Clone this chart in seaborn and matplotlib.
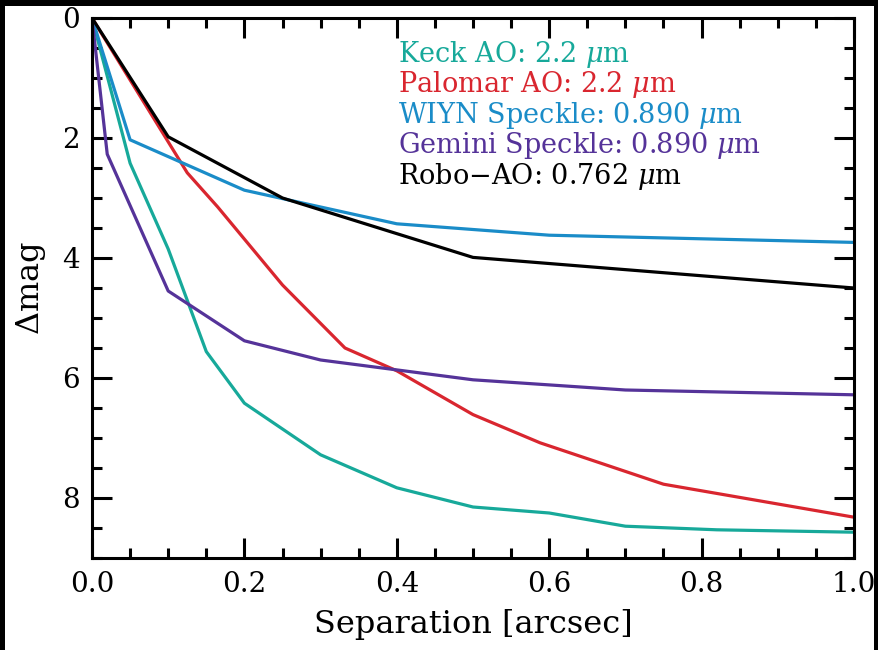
import matplotlib
matplotlib.use("Agg")
import matplotlib.pyplot as plt
from matplotlib.patches import Rectangle
from matplotlib.ticker import MultipleLocator
import seaborn as sns
import pandas as pd

# Contrast curves: separation [arcsec] vs. delta magnitude
keck_sep = [0.0, 0.05, 0.10, 0.15, 0.20, 0.30, 0.40, 0.50, 0.60, 0.70, 0.82, 1.00]
keck_dmag = [0.0, 2.42, 3.85, 5.56, 6.42, 7.28, 7.83, 8.15, 8.25, 8.47, 8.53, 8.57]

palomar_sep = [0.0, 0.125, 0.165, 0.25, 0.332, 0.40, 0.50, 0.588, 0.75, 1.00]
palomar_dmag = [0.0, 2.58, 3.15, 4.45, 5.50, 5.88, 6.61, 7.08, 7.77, 8.32]

wiyn_sep = [0.0, 0.05, 0.20, 0.40, 0.60, 1.00]
wiyn_dmag = [0.0, 2.03, 2.87, 3.43, 3.62, 3.74]

gemini_sep = [0.0, 0.02, 0.10, 0.20, 0.30, 0.50, 0.70, 1.00]
gemini_dmag = [0.0, 2.27, 4.55, 5.38, 5.70, 6.03, 6.20, 6.28]

robo_sep = [0.0, 0.10, 0.25, 0.50, 1.00]
robo_dmag = [0.0, 1.98, 3.00, 3.99, 4.50]

instruments = ["Keck AO", "Palomar AO", "WIYN Speckle", "Gemini Speckle", "Robo\u2212AO"]
wavelengths = ["2.2", "2.2", "0.890", "0.890", "0.762"]
colors = ["#17a99a", "#d9262f", "#1a8cc8", "#553399", "#000000"]

x_label = "Separation [arcsec]"
y_label = r"$\Delta$mag"
x_ticks = [0.0, 0.2, 0.4, 0.6, 0.8, 1.0]
y_ticks = [0, 2, 4, 6, 8]

series = [(keck_sep, keck_dmag), (palomar_sep, palomar_dmag), (wiyn_sep, wiyn_dmag),
          (gemini_sep, gemini_dmag), (robo_sep, robo_dmag)]
frames = []
for name, (xs, ys) in zip(instruments, series):
    frames.append(pd.DataFrame({"sep": xs, "dmag": ys, "instrument": name}))
df = pd.concat(frames, ignore_index=True)

sns.set_style("ticks")
plt.rcParams["font.family"] = ["DejaVu Serif"]
plt.rcParams["mathtext.fontset"] = "dejavuserif"
plt.rcParams["axes.labelcolor"] = "black"

fig = plt.figure(figsize=(8.79, 6.5), dpi=100)
fig.patch.set_facecolor("white")
ax = fig.add_axes([92 / 879, 1 - 558 / 650, (854 - 92) / 879, (558 - 18) / 650])

sns.lineplot(data=df, x="sep", y="dmag", hue="instrument", hue_order=instruments,
             palette=dict(zip(instruments, colors)), linewidth=2.3, sort=False,
             estimator=None, legend=False, ax=ax)

ax.set_xlim(0, 1.0)
ax.set_ylim(9, 0)
ax.set_xticks(x_ticks)
ax.set_xticklabels([f"{t:.1f}" for t in x_ticks])
ax.set_yticks(y_ticks)
ax.set_yticklabels([str(t) for t in y_ticks])
ax.xaxis.set_minor_locator(MultipleLocator(0.05))
ax.yaxis.set_minor_locator(MultipleLocator(0.5))
ax.tick_params(which="both", direction="in", top=True, right=True, width=2.2,
               colors="black", labelsize=20)
ax.tick_params(which="major", length=14.5, pad=9)
ax.tick_params(which="minor", length=7.2)
for s in ax.spines.values():
    s.set_linewidth(2.2)
    s.set_color("black")

ax.set_xlabel(x_label, fontsize=23, labelpad=8)
ax.set_ylabel(y_label, fontsize=23, labelpad=10)

# Coloured label block in the upper right
y0 = 0.933
dy = 0.0565
for i, (name, wl, c) in enumerate(zip(instruments, wavelengths, colors)):
    ax.text(0.4016, y0 - i * dy, f"{name}: {wl} $\\mu$m", color=c, fontsize=19.5,
            transform=ax.transAxes, ha="left", va="center")

# Dark frame along the top and side edges of the canvas
for (x, y, w, h) in [(0, 644 / 650, 1, 6 / 650), (0, 0, 5 / 879, 1), (874 / 879, 0, 5 / 879, 1)]:
    fig.patches.append(Rectangle((x, y), w, h, transform=fig.transFigure,
                                 facecolor="black", edgecolor="none", zorder=10))

fig.savefig("out.png", dpi=100, facecolor="white")
